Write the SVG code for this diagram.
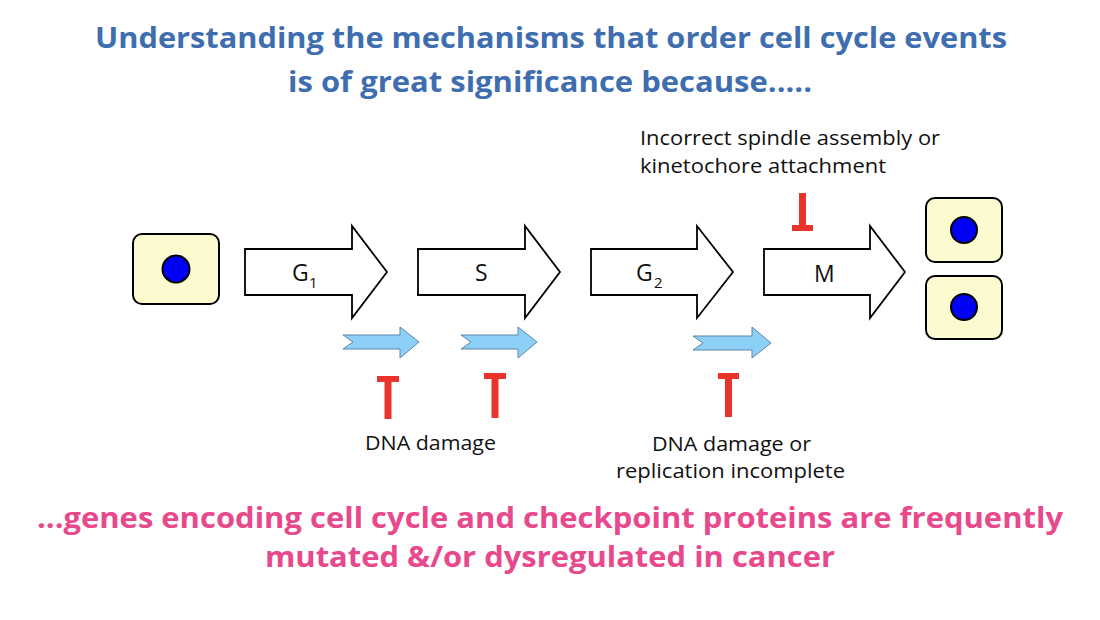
<svg xmlns="http://www.w3.org/2000/svg" width="1100" height="620" viewBox="0 0 1100 620">
<defs>
<style>
.cell{fill:#FCFBD0;stroke:#000;stroke-width:2}
.nuc{fill:#0000F5;stroke:#000;stroke-width:2}
.phase{fill:#fff;stroke:#000;stroke-width:1.8;stroke-linejoin:miter}
.blue{fill:#8DD0F7;stroke:#5C85A8;stroke-width:1}
.red{fill:#E8342B}
.title{font-family:"Open Sans","Noto Sans",sans-serif;font-weight:bold;font-size:29px;fill:#3F6EB0}
.pink{font-family:"Open Sans","Noto Sans",sans-serif;font-weight:bold;font-size:29px;fill:#E8498D}
.lbl{font-family:"Open Sans","Noto Sans",sans-serif;font-size:20px;fill:#111}
.lbl2{font-family:"Open Sans","Noto Sans",sans-serif;font-size:19.5px;fill:#111}
.ph{font-family:"Open Sans","Noto Sans",sans-serif;font-size:23px;fill:#111}
.sub{font-family:"Open Sans","Noto Sans",sans-serif;font-size:15px;fill:#111}
</style>
</defs>
<rect width="1100" height="620" fill="#fff"/>

<g id="title">
<text class="title" x="95" y="48" textLength="912" lengthAdjust="spacingAndGlyphs">Understanding the mechanisms that order cell cycle events</text>
<text class="title" x="288" y="92" textLength="524" lengthAdjust="spacingAndGlyphs">is of great significance because.....</text>
</g>

<g id="cell-start">
<rect class="cell" x="133" y="234" width="86" height="70" rx="9"/>
<circle class="nuc" cx="176" cy="269" r="13.5"/>
</g>

<g id="phase-g1">
<polygon class="phase" points="245,249 352,249 352,226 387,272 352,318 352,295 245,295"/>
<text class="ph" x="292" y="281">G</text><text class="sub" x="309" y="288">1</text>
</g>
<g id="phase-s">
<polygon class="phase" points="418,249 525,249 525,226 560,272 525,318 525,295 418,295"/>
<text class="ph" x="475" y="281">S</text>
</g>
<g id="phase-g2">
<polygon class="phase" points="591,249 697,249 697,226 733,272 697,318 697,295 591,295"/>
<text class="ph" x="636" y="281">G</text><text class="sub" x="654" y="288">2</text>
</g>
<g id="phase-m">
<polygon class="phase" points="764,249 870,249 870,226 905,272 870,318 870,295 764,295"/>
<text class="ph" x="814" y="282">M</text>
</g>

<g id="cell-daughter-1">
<rect class="cell" x="926" y="198" width="76" height="64" rx="9"/>
<circle class="nuc" cx="964" cy="230" r="13"/>
</g>
<g id="cell-daughter-2">
<rect class="cell" x="926" y="276" width="76" height="63" rx="9"/>
<circle class="nuc" cx="964" cy="307" r="13"/>
</g>

<g id="connectors">
<polygon class="blue" points="343,335 400,335 400,327 419,342 400,358 400,349 343,349 353,342"/>
<polygon class="blue" points="461,335 518,335 518,327 537,342 518,358 518,349 461,349 471,342"/>
<polygon class="blue" points="693,336 752,336 752,327 771,343 752,358 752,350 693,350 703,343"/>
<g id="block-g1">
<rect class="red" x="377" y="376" width="22" height="6"/>
<rect class="red" x="384.5" y="376" width="7" height="43"/>
</g>
<g id="block-s">
<rect class="red" x="484" y="373" width="22" height="6"/>
<rect class="red" x="491.5" y="373" width="7" height="45"/>
</g>
<g id="block-g2">
<rect class="red" x="718" y="373" width="21" height="6"/>
<rect class="red" x="725" y="373" width="7" height="44"/>
</g>
<g id="block-m">
<rect class="red" x="792" y="225" width="21" height="6"/>
<rect class="red" x="799" y="193" width="7" height="38"/>
</g>
</g>

<g id="label-spindle">
<text class="lbl" x="640" y="145" textLength="300" lengthAdjust="spacingAndGlyphs">Incorrect spindle assembly or</text>
<text class="lbl" x="640" y="173" textLength="246" lengthAdjust="spacingAndGlyphs">kinetochore attachment</text>
</g>
<g id="label-dna">
<text class="lbl" x="365" y="450" textLength="131" lengthAdjust="spacingAndGlyphs">DNA damage</text>
</g>
<g id="label-dna-rep">
<text class="lbl2" x="652" y="450.5" textLength="159" lengthAdjust="spacingAndGlyphs">DNA damage or</text>
<text class="lbl2" x="616" y="477.5" textLength="229" lengthAdjust="spacingAndGlyphs">replication incomplete</text>
</g>

<g id="footer">
<text class="pink" x="37" y="528" textLength="1026" lengthAdjust="spacingAndGlyphs">...genes encoding cell cycle and checkpoint proteins are frequently</text>
<text class="pink" x="265" y="567" textLength="570" lengthAdjust="spacingAndGlyphs">mutated &amp;/or dysregulated in cancer</text>
</g>
</svg>
